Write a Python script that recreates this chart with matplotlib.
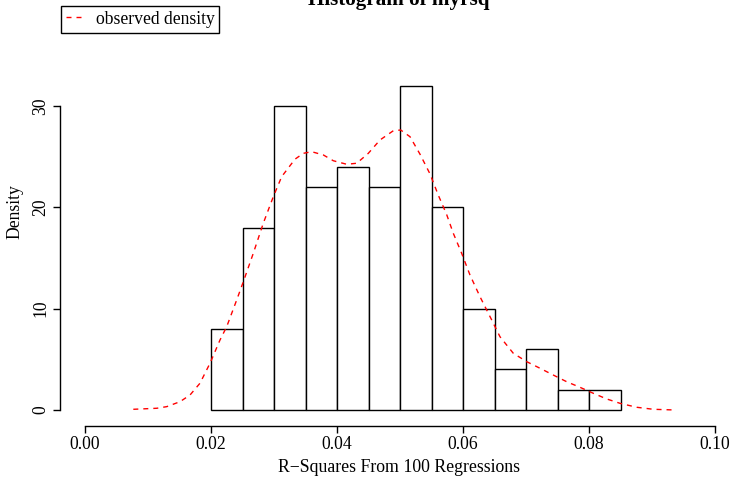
import numpy as np
import matplotlib
matplotlib.use("Agg")
import matplotlib.pyplot as plt
from matplotlib.lines import Line2D

# Histogram bins (left edges) and densities
bin_left = [0.020, 0.025, 0.030, 0.035, 0.040, 0.045, 0.050,
            0.055, 0.060, 0.065, 0.070, 0.075, 0.080]
bin_width = 0.005
bin_density = [8, 18, 30, 22, 24, 22, 32, 20, 10, 4, 6, 2, 2]

# Kernel density estimate of the R-squares
kde_x = [0.00767, 0.01138, 0.01297, 0.01508, 0.01667, 0.01825, 0.01984,
         0.02143, 0.02249, 0.02408, 0.02513, 0.02671, 0.02830, 0.02989,
         0.03122, 0.03333, 0.03465, 0.03598, 0.03783, 0.03941, 0.04154,
         0.04313, 0.04497, 0.04683, 0.04894, 0.05011, 0.05159, 0.05317,
         0.05476, 0.05608, 0.05740, 0.05846, 0.05979, 0.06111, 0.06270,
         0.06456, 0.06587, 0.06798, 0.07011, 0.07222, 0.07433, 0.07646,
         0.07857, 0.08068, 0.08281, 0.08492, 0.08757, 0.09021, 0.09365]
kde_y = [0.07, 0.17, 0.33, 0.82, 1.48, 2.64, 4.61,
         6.91, 8.22, 10.86, 12.66, 15.46, 18.43, 21.05,
         23.03, 24.75, 25.33, 25.49, 25.17, 24.60, 24.25,
         24.35, 25.33, 26.65, 27.56, 27.63, 26.97, 25.25,
         23.30, 21.20, 19.30, 17.44, 15.46, 13.32, 11.18,
         8.88, 7.23, 5.60, 4.77, 4.12, 3.45, 2.79,
         2.24, 1.65, 1.09, 0.66, 0.27, 0.07, 0.00]

x_ticks = [0.00, 0.02, 0.04, 0.06, 0.08, 0.10]
x_tick_labels = ["0.00", "0.02", "0.04", "0.06", "0.08", "0.10"]
y_ticks = [0, 10, 20, 30]
y_tick_labels = ["0", "10", "20", "30"]

W, H, DPI = 731, 478, 100
plt.rcParams["font.family"] = ["Liberation Serif", "DejaVu Serif"]
plt.rcParams["font.size"] = 12.7

fig = plt.figure(figsize=(W / DPI, H / DPI), dpi=DPI)
ax = fig.add_axes([0, 0, 1, 1])
ax.patch.set_visible(False)

# pixel geometry of the data scales
x0_px, x_scale = 85.0, 6300.0      # x=0 at pixel 85, px per unit
y0_px, y_scale = 410.0, 10.133     # y=0 at pixel row 410, px per unit
ax.set_xlim((0 - x0_px) / x_scale, (W - x0_px) / x_scale)
ax.set_ylim((y0_px - H) / y_scale, y0_px / y_scale)

dash = (0, (3.6, 3.6))
ax.bar(bin_left, bin_density, width=bin_width, align="edge",
       facecolor="white", edgecolor="black", linewidth=1.0, zorder=2)
ax.plot(kde_x, kde_y, color="red", linewidth=1.0, linestyle=dash, zorder=3)

# R-style axes: detached lines spanning the tick range
for s in ["top", "right"]:
    ax.spines[s].set_visible(False)
ax.spines["bottom"].set_position(("data", (y0_px - 426) / y_scale))
ax.spines["bottom"].set_bounds(0, 0.10)
ax.spines["left"].set_position(("data", (60 - x0_px) / x_scale))
ax.spines["left"].set_bounds(0, 30)
for s in ["bottom", "left"]:
    ax.spines[s].set_linewidth(1.0)

ax.set_xticks(x_ticks, x_tick_labels)
ax.set_yticks(y_ticks, y_tick_labels)
ax.tick_params(axis="both", direction="out", length=5.0, width=1.0,
               labelsize=12.7, pad=2.5)
for lab in ax.get_yticklabels():
    lab.set_rotation(90)
    lab.set_va("center")

fig.text(399 / W, 1 - 467 / H, "R\u2212Squares From 100 Regressions",
         ha="center", va="center", fontsize=12.8)
fig.text(15 / W, 1 - 212 / H, "Density", rotation=90,
         ha="center", va="center", fontsize=12.7)
fig.text(399 / W, 1 - 5 / H, "Histogram of myrsq", ha="center",
         va="baseline", fontsize=15.2, fontweight="bold")

handle = Line2D([], [], color="red", linewidth=1.0, linestyle=dash)
leg = ax.legend([handle], ["observed density"], loc="upper left",
                bbox_to_anchor=(60.7 / W, 1 - 5.7 / H),
                bbox_transform=fig.transFigure, frameon=True, fancybox=False,
                edgecolor="black", framealpha=1, fontsize=12.7,
                handlelength=0.95, handletextpad=0.75, borderpad=0.28,
                borderaxespad=0)
leg.get_frame().set_linewidth(1.0)

fig.savefig("out.png", dpi=DPI)
